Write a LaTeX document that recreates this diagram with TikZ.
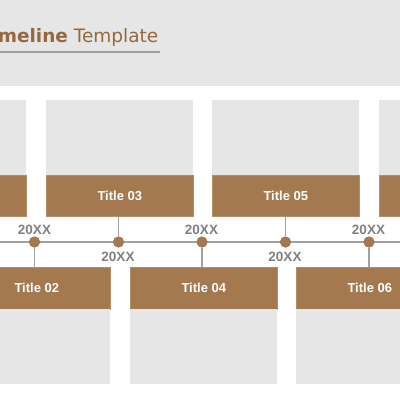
\documentclass[tikz,border=0pt]{standalone}
\usepackage{fontspec}
\setmainfont{Liberation Sans}
\newfontfamily\headfont{DejaVu Sans}
\definecolor{tbrown}{RGB}{164,121,80}
\definecolor{hbrown}{RGB}{150,105,60}
\definecolor{pgray}{RGB}{230,230,230}
\definecolor{lgray}{RGB}{160,160,160}
\definecolor{ygray}{RGB}{128,128,128}
\begin{document}
\begin{tikzpicture}[x=1pt,y=-1pt,
  panel/.style={fill=pgray,draw=none,anchor=north west,inner sep=0pt,minimum width=147pt,minimum height=75pt},
  titlebox/.style={fill=tbrown,draw=tbrown!85!white,line width=0.6pt,anchor=north west,inner sep=0pt,minimum width=147pt,text=white,font=\bfseries\fontsize{13}{15}\selectfont},
  dotnode/.style={circle,fill=tbrown,inner sep=0pt,minimum size=11pt},
  conn/.style={draw=lgray,line width=1.3pt},
  tline/.style={draw=lgray,line width=2pt},
  year/.style={text=ygray,font=\bfseries\fontsize{13.5}{15}\selectfont,inner sep=0pt}]
\useasboundingbox (0,0) rectangle (400,400);
\clip (0,0) rectangle (400,400);
\fill[white] (0,0) rectangle (400,400);
\fill[pgray] (0,0) rectangle (400,86);
% header
\node[anchor=base east,inner sep=0pt,text=hbrown,font=\headfont\fontsize{18.5}{22}\selectfont] (head) at (158.5,42) {\textbf{Timeline} Template};
\coordinate (ul0) at (-5,52);
\coordinate (ul1) at (160,52);
\draw[draw=lgray,line width=1.5pt] (ul0) -- (ul1);
% top panels
\node[panel] (pa) at (-121,100) {};
\node[panel] (pb) at (46,100) {};
\node[panel] (pc) at (212,100) {};
\node[panel] (pd) at (379,100) {};
\node[titlebox,minimum height=41pt] (t01) at (-121,175) {};
\node[titlebox,minimum height=41pt] (t03) at (46,175) {Title 03};
\node[titlebox,minimum height=41pt] (t05) at (212,175) {Title 05};
\node[titlebox,minimum height=41pt] (t07) at (379,175) {};
% bottom panels
\node[titlebox,minimum height=42pt] (t02) at (-37,267) {Title 02};
\node[titlebox,minimum height=42pt] (t04) at (130,267) {Title 04};
\node[titlebox,minimum height=42pt] (t06) at (296,267) {Title 06};
\node[panel] (pe) at (-37,309) {};
\node[panel] (pf) at (130,309) {};
\node[panel] (pg) at (296,309) {};
% timeline
\coordinate (lineL) at (0,242);
\coordinate (lineR) at (400,242);
\draw[tline] (lineL) -- (lineR);
\node[dotnode] (d1) at (34.5,242) {};
\node[dotnode] (d2) at (118.5,242) {};
\node[dotnode] (d3) at (202,242) {};
\node[dotnode] (d4) at (285.5,242) {};
\node[dotnode] (d5) at (369,242) {};
\draw[conn] (d2) -- (d2 |- t03.south);
\draw[conn] (d4) -- (d4 |- t05.south);
\draw[conn] (d1) -- (d1 |- t02.north);
\draw[conn] (d3) -- (d3 |- t04.north);
\draw[conn] (d5) -- (d5 |- t06.north);
\node[dotnode] at (d1) {};
\node[dotnode] at (d2) {};
\node[dotnode] at (d3) {};
\node[dotnode] at (d4) {};
\node[dotnode] at (d5) {};
% years
\node[year] (y1) at (34.5,229.5) {20XX};
\node[year] (y2) at (118,257) {20XX};
\node[year] (y3) at (201.5,229.5) {20XX};
\node[year] (y4) at (285,257) {20XX};
\node[year] (y5) at (368.5,229.5) {20XX};
\end{tikzpicture}
\end{document}
